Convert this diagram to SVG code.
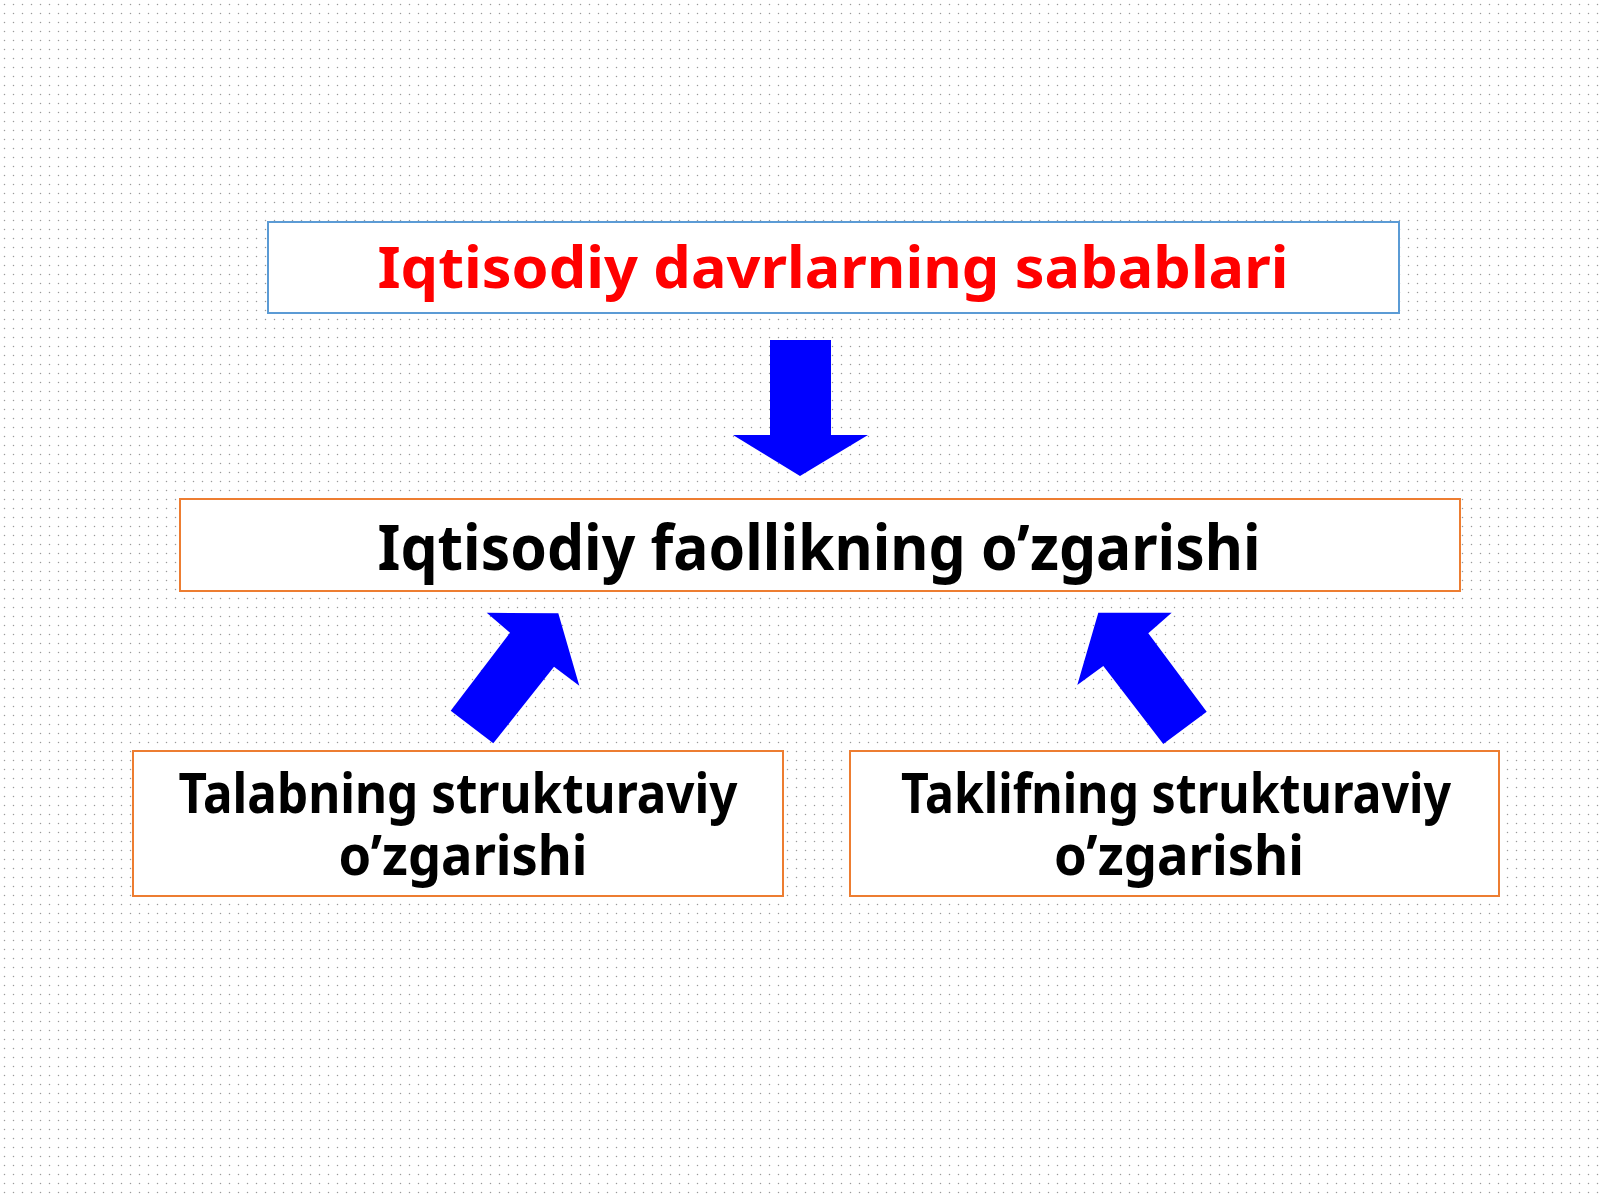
<svg xmlns="http://www.w3.org/2000/svg" width="1600" height="1200" viewBox="0 0 1600 1200">
  <defs>
    <pattern id="dots" x="0" y="0" width="9" height="9" patternUnits="userSpaceOnUse">
      <circle cx="4.5" cy="4.5" r="0.75" fill="#9a9a9a"/>
    </pattern>
  </defs>
  <style>
    .box { fill: #ffffff; stroke-width: 2; }
    .blue { stroke: #5b9bd5; }
    .orange { stroke: #ed7d31; }
    .t { font-family: "Noto Sans", "Open Sans", "Liberation Sans", sans-serif; font-weight: bold; text-anchor: middle; }
    .arrow { fill: #0000ff; }
  </style>
  <rect x="0" y="0" width="1600" height="1200" fill="#ffffff"/>
  <rect x="0" y="0" width="1600" height="1200" fill="url(#dots)"/>

  <g id="node-top">
    <rect class="box blue" x="268" y="222" width="1131" height="91"/>
    <text class="t" x="833" y="288" font-size="58" fill="#ff0000" textLength="911" lengthAdjust="spacingAndGlyphs">Iqtisodiy davrlarning sabablari</text>
  </g>

  <g id="node-middle">
    <rect class="box orange" x="180" y="499" width="1280" height="92"/>
    <text class="t" x="819" y="570" font-size="62" fill="#000000" textLength="883" lengthAdjust="spacingAndGlyphs">Iqtisodiy faollikning o’zgarishi</text>
  </g>

  <g id="node-left">
    <rect class="box orange" x="133" y="751" width="650" height="145"/>
    <text class="t" x="458" y="813" font-size="56" fill="#000000" textLength="559" lengthAdjust="spacingAndGlyphs">Talabning strukturaviy</text>
    <text class="t" x="463" y="875" font-size="56" fill="#000000" textLength="249" lengthAdjust="spacingAndGlyphs">o’zgarishi</text>
  </g>

  <g id="node-right">
    <rect class="box orange" x="850" y="751" width="649" height="145"/>
    <text class="t" x="1176" y="813" font-size="56" fill="#000000" textLength="550" lengthAdjust="spacingAndGlyphs">Taklifning strukturaviy</text>
    <text class="t" x="1179" y="875" font-size="56" fill="#000000" textLength="250" lengthAdjust="spacingAndGlyphs">o’zgarishi</text>
  </g>

  <g id="connectors">
    <polygon class="arrow" points="770,340 831,340 831,435 868,435 800,476 733,435 770,435"/>
    <polygon class="arrow" points="450.7,710.7 510,632.7 486.7,612.7 558.3,613.3 579.3,685.7 554,666.7 493.3,743.3"/>
    <polygon class="arrow" points="1163.3,744 1103.3,666 1077.3,685 1098.3,612.7 1171.7,612.7 1148.3,633.3 1206.7,711.7"/>
  </g>
</svg>
